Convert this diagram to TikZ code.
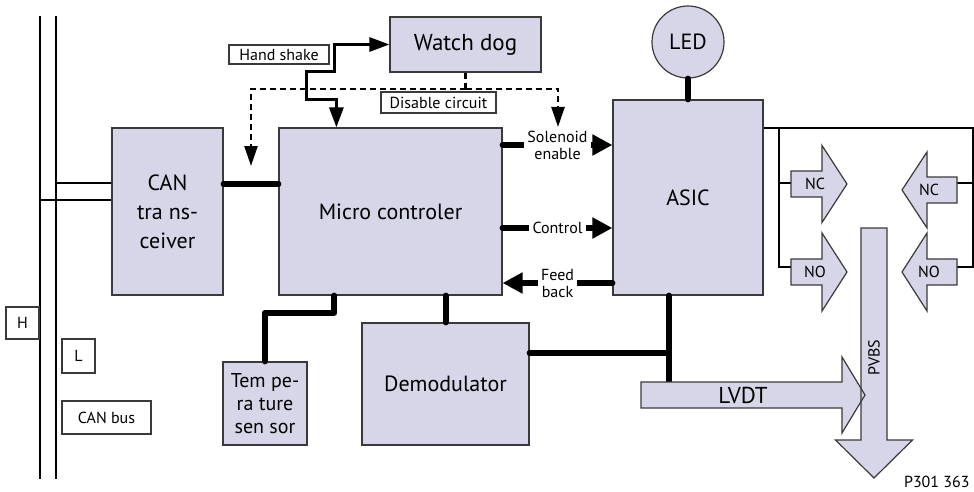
\documentclass[tikz,border=0pt]{standalone}
\usepackage{fontspec}
\setmainfont{PT Sans}
\usepackage{tikz}
\usetikzlibrary{arrows.meta,positioning}
\definecolor{boxc}{HTML}{D6D6E8}
\definecolor{edgec}{HTML}{3A3A3A}
\tikzset{
  blk/.style={draw=edgec,line width=0.6pt,fill=boxc,align=center,inner sep=1pt,font=\fontsize{11}{14.5}\selectfont},
  tag/.style={draw=edgec,line width=0.6pt,fill=white,inner sep=1pt,font=\fontsize{8}{9}\selectfont},
  lbl/.style={fill=white,align=center,inner sep=1.5pt,font=\fontsize{8}{8.5}\selectfont},
  small/.style={font=\fontsize{8}{9}\selectfont},
  thk/.style={line width=3pt,line cap=round,line join=round},
  sig/.style={line width=3pt,line cap=round,-{Triangle[length=10pt,width=10pt]}},
  wire/.style={line width=1pt},
  hs/.style={line width=1.5pt,{Triangle[length=10pt,width=7pt]}-{Triangle[length=10pt,width=7pt]}},
  dsh/.style={line width=1.2pt,dash pattern=on 3pt off 2pt,-{Triangle[length=10pt,width=6.5pt]}},
  arw/.style={draw=edgec,line width=0.6pt,fill=boxc}
}
\newcommand{\harrow}[7][]{\path[#1] (#2,#5-#6) -- (#3,#5-#6) -- (#3,#5-#7) -- (#4,#5) -- (#3,#5+#7) -- (#3,#5+#6) -- (#2,#5+#6) -- cycle;}
\newcommand{\varrow}[7][]{\path[#1] (#5-#6,#2) -- (#5+#6,#2) -- (#5+#6,#3) -- (#5+#7,#3) -- (#5,#4) -- (#5-#7,#3) -- (#5-#6,#3) -- cycle;}

\begin{document}
\begin{tikzpicture}[x=0.5pt,y=-0.5pt]
\useasboundingbox (0,0) rectangle (974,492);
\coordinate (hTop) at (40,16); \coordinate (hBot) at (40,479);
\coordinate (lTop) at (56,16); \coordinate (lBot) at (56,479);
\coordinate (busH) at (40,200); \coordinate (busL) at (56,183);
\draw[wire] (hTop) -- (hBot); \draw[wire] (lTop) -- (lBot);
\node[tag,minimum width=16.5pt,minimum height=16pt] (hbox) at (22.5,323) {H};
\node[tag,minimum width=16.5pt,minimum height=17pt] (lbox) at (78.5,356) {L};
\node[tag,minimum width=44.5pt,minimum height=16.5pt] (canbus) at (106.5,417.5) {CAN bus};
\node[blk,minimum width=55.5pt,minimum height=83.5pt] (can) at (167.5,211.5) {CAN\\tra ns-\\ceiver};
\node[blk,minimum width=111.5pt,minimum height=83.5pt] (micro) at (390.5,211.5) {Micro controler};
\node[blk,minimum width=75.5pt,minimum height=27.5pt,font=\fontsize{11.5}{13}\selectfont] (wdog) at (465.5,44.5) {Watch dog};
\node[blk,minimum width=75pt,minimum height=97.5pt] (asic) at (688,197.5) {ASIC};
\node[blk,circle,minimum size=36pt] (led) at (688,42) {LED};
\node[blk,minimum width=83.5pt,minimum height=61pt] (demod) at (445.5,384) {Demodulator};
\node[blk,minimum width=42pt,minimum height=41.5pt,font=\fontsize{10}{11.5}\selectfont] (temp) at (265,403.5) {Tem pe-\\ra ture\\sen sor};
\draw[wire] (busL) -- (busL -| can.west);
\draw[wire] (busH) -- (busH -| can.west);
\draw[thk] (can.east |- 0,184) -- (micro.west |- 0,184);
\draw[hs] (micro.north west) ++(58,0) -- ++(0,-28) -- ++(-30,0) -- ++(0,-28) -- ++(28,0) |- (wdog.west);
\coordinate (dj) at (wdog.south |- 0,89);
\coordinate (dl) at (251,166); \coordinate (dr) at (558,127);
\draw[dsh,-] (wdog.south) -- (dj);
\draw[dsh] (dj) -| (dl);
\draw[dsh] (dj) -| (dr);
\node[tag,minimum width=50pt,minimum height=9.5pt] (hshake) at (279,54.5) {Hand shake};
\node[tag,minimum width=57.5pt,minimum height=10.5pt] (disable) at (438.5,102.5) {Disable circuit};
\draw[sig] (micro.east |- 0,145) -- node[lbl] (solen) {Solenoid\\enable} (asic.west |- 0,145);
\draw[sig] (micro.east |- 0,228) -- node[lbl] (ctrl) {Control} (asic.west |- 0,228);
\draw[sig] (asic.west |- 0,283) -- node[lbl] (fback) {Feed\\back} (micro.east |- 0,283);
\draw[thk] (led.south) -- (led.south |- asic.north);
\draw[thk] (micro.south west) ++(56,0) -- ++(0,17) -| (temp.north);
\draw[thk] (demod.north) -- (demod.north |- micro.south);
\coordinate (lvdtTop) at (669,382); \coordinate (lj) at (669,353);
\draw[thk] (asic.south -| lvdtTop) -- (lvdtTop);
\draw[thk] (lj -| demod.east) -- (lj);
\coordinate (kL) at (779,128); \coordinate (kLb) at (779,267);
\coordinate (rTop) at (973,128); \coordinate (rBot) at (973,267);
\draw[wire] (asic.east |- rTop) -- (rTop) -- (rBot) -- ++(-16,0);
\draw[wire] (rTop |- 0,183) -- ++(-16,0);
\draw[wire] (kL) -- (kLb) -- ++(12,0);
\draw[wire] (kL |- 0,183) -- ++(12,0);
\harrow[arw]{791}{822}{847}{184}{13}{38.5}
\harrow[arw]{791}{822}{847}{272}{13}{39}
\harrow[arw]{957}{927}{902}{190}{13}{38}
\harrow[arw]{957}{927}{902}{272}{13}{39}
\harrow[fill=boxc]{641}{842}{865}{395}{13}{38}
\varrow[fill=boxc]{228}{440}{478}{874}{13}{38.5}
\harrow[draw=edgec,line width=0.6pt]{641}{842}{865}{395}{13}{38}
\varrow[draw=edgec,line width=0.6pt]{228}{440}{478}{874}{13}{38.5}
\node[small] (nc1) at (815,184) {NC};
\node[small] (no1) at (815,272) {NO};
\node[small] (nc2) at (929,190) {NC};
\node[small] (no2) at (929,272) {NO};
\node[font=\fontsize{11.5}{13}\selectfont] (lvdt) at (743,395) {LVDT};
\node[small,rotate=90] (pvbs) at (874,358) {PVBS};
\node[small,anchor=east,inner sep=1pt] (fig) at (972,482) {P301 363};
\end{tikzpicture}
\end{document}
